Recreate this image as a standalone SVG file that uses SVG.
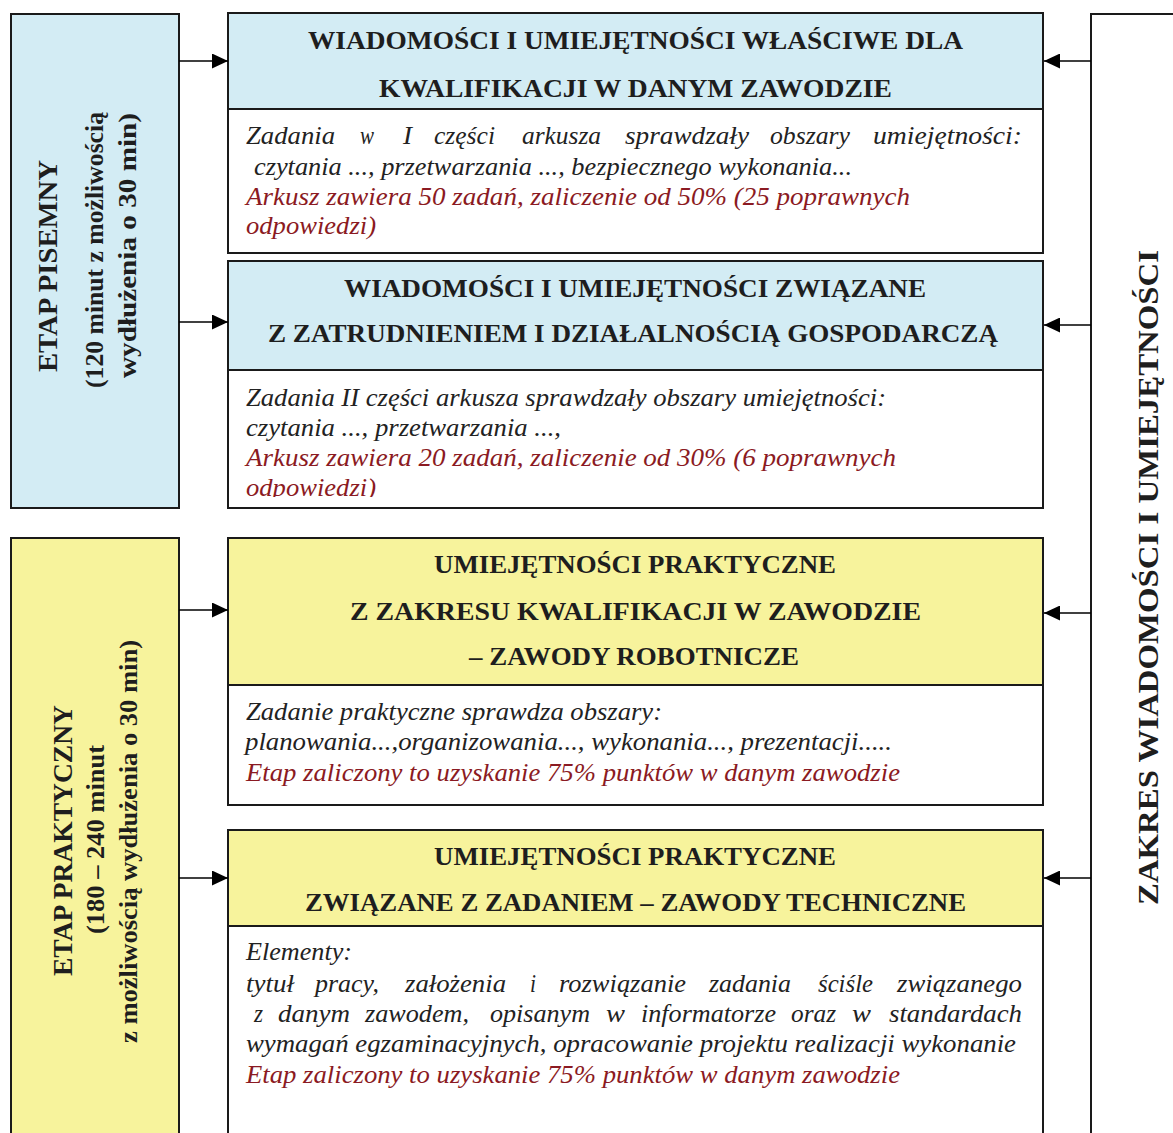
<svg xmlns="http://www.w3.org/2000/svg" width="1173" height="1133" viewBox="0 0 1173 1133" xml:space="preserve">
<defs>
<style>
.box{stroke:#1a1a1a;stroke-width:2}
.blue{fill:#d3ecf4}
.yel{fill:#f7f39c}
.wh{fill:#ffffff}
.hd{font-family:'Liberation Serif',serif;font-weight:bold;font-size:25px;fill:#1e1e1e}
.side{font-family:'Liberation Serif',serif;font-weight:bold;fill:#1e1e1e}
.bd{font-family:'Liberation Serif',serif;font-style:italic;font-size:25px;fill:#222222}
.red{fill:#8b1a22}
.con{stroke:#000;stroke-width:1.6;fill:none;marker-end:url(#ah)}
</style>
<marker id="ah" markerUnits="userSpaceOnUse" markerWidth="17" markerHeight="15" refX="16" refY="7.5" orient="auto">
<path d="M0,0 L16,7.5 L0,15 z" fill="#000"/>
</marker>
<clipPath id="clip2"><rect x="228" y="371" width="815" height="126"/></clipPath>
</defs>
<rect width="1173" height="1133" fill="#ffffff"/>

<g id="etap-pisemny">
<rect class="box blue" x="11" y="14" width="168" height="494"/>
<text class="side" font-size="28" transform="translate(57,372) rotate(-90)" textLength="212" lengthAdjust="spacingAndGlyphs">ETAP  PISEMNY</text>
<text class="side" font-size="26" transform="translate(103,388) rotate(-90)" textLength="276" lengthAdjust="spacingAndGlyphs">(120 minut z możliwością</text>
<text class="side" font-size="26" transform="translate(136,378) rotate(-90)" textLength="265" lengthAdjust="spacingAndGlyphs">wydłużenia o 30 min)</text>
</g>

<g id="etap-praktyczny">
<rect class="box yel" x="11" y="538" width="168" height="700"/>
<text class="side" font-size="28" transform="translate(72,976) rotate(-90)" textLength="271" lengthAdjust="spacingAndGlyphs">ETAP  PRAKTYCZNY</text>
<text class="side" font-size="26" transform="translate(104,934) rotate(-90)" textLength="189" lengthAdjust="spacingAndGlyphs">(180 – 240 minut</text>
<text class="side" font-size="26" transform="translate(137,1043) rotate(-90)" textLength="403" lengthAdjust="spacingAndGlyphs">z możliwością wydłużenia o 30 min)</text>
</g>

<g id="zakres">
<rect class="box wh" x="1091" y="14" width="120" height="1200"/>
<text class="side" font-size="30" transform="translate(1158,905) rotate(-90)" textLength="655" lengthAdjust="spacingAndGlyphs">ZAKRES WIADOMOŚCI  I  UMIEJĘTNOŚCI</text>
</g>

<g id="box1">
<rect class="box wh" x="228" y="13" width="815" height="240"/>
<rect class="box blue" x="228" y="13" width="815" height="96"/>
<text class="hd" x="308" y="49" textLength="655" lengthAdjust="spacingAndGlyphs">WIADOMOŚCI  I  UMIEJĘTNOŚCI WŁAŚCIWE  DLA</text>
<text class="hd" x="379" y="97" textLength="513" lengthAdjust="spacingAndGlyphs">KWALIFIKACJI W  DANYM  ZAWODZIE</text>
<text class="bd" y="144"><tspan x="246" textLength="89" lengthAdjust="spacingAndGlyphs">Zadania</tspan> <tspan x="360" textLength="14" lengthAdjust="spacingAndGlyphs">w</tspan> <tspan x="403" textLength="9" lengthAdjust="spacingAndGlyphs">I</tspan> <tspan x="434" textLength="61" lengthAdjust="spacingAndGlyphs">części</tspan> <tspan x="522" textLength="79" lengthAdjust="spacingAndGlyphs">arkusza</tspan> <tspan x="625" textLength="124" lengthAdjust="spacingAndGlyphs">sprawdzały</tspan> <tspan x="770" textLength="80" lengthAdjust="spacingAndGlyphs">obszary</tspan> <tspan x="873" textLength="149" lengthAdjust="spacingAndGlyphs">umiejętności:</tspan></text>
<text class="bd" x="254" y="175" textLength="598" lengthAdjust="spacingAndGlyphs">czytania ..., przetwarzania ..., bezpiecznego wykonania...</text>
<text class="bd red" x="246" y="205" textLength="664" lengthAdjust="spacingAndGlyphs">Arkusz zawiera 50 zadań,  zaliczenie od 50% (25 poprawnych</text>
<text class="bd red" x="246" y="234" textLength="130" lengthAdjust="spacingAndGlyphs">odpowiedzi)</text>
</g>

<g id="box2">
<rect class="box wh" x="228" y="261" width="815" height="247"/>
<rect class="box blue" x="228" y="261" width="815" height="109"/>
<text class="hd" x="344" y="297" textLength="582" lengthAdjust="spacingAndGlyphs">WIADOMOŚCI  I  UMIEJĘTNOŚCI ZWIĄZANE</text>
<text class="hd" x="268" y="342" textLength="730" lengthAdjust="spacingAndGlyphs">Z  ZATRUDNIENIEM  I DZIAŁALNOŚCIĄ  GOSPODARCZĄ</text>
<text class="bd" x="246" y="406" textLength="640" lengthAdjust="spacingAndGlyphs">Zadania II części arkusza sprawdzały obszary umiejętności:</text>
<text class="bd" x="246" y="436" textLength="315" lengthAdjust="spacingAndGlyphs">czytania ..., przetwarzania ...,</text>
<text class="bd red" x="246" y="466" textLength="650" lengthAdjust="spacingAndGlyphs">Arkusz zawiera 20 zadań,  zaliczenie od 30% (6 poprawnych</text>
<text class="bd red" x="246" y="496" textLength="130" lengthAdjust="spacingAndGlyphs" clip-path="url(#clip2)">odpowiedzi)</text>
</g>

<g id="box3">
<rect class="box wh" x="228" y="538" width="815" height="267"/>
<rect class="box yel" x="228" y="538" width="815" height="147"/>
<text class="hd" x="434" y="573" textLength="402" lengthAdjust="spacingAndGlyphs">UMIEJĘTNOŚCI  PRAKTYCZNE</text>
<text class="hd" x="350" y="620" textLength="571" lengthAdjust="spacingAndGlyphs">Z  ZAKRESU  KWALIFIKACJI W  ZAWODZIE</text>
<text class="hd" x="469" y="665" textLength="330" lengthAdjust="spacingAndGlyphs">– ZAWODY ROBOTNICZE</text>
<text class="bd" x="246" y="720" textLength="416" lengthAdjust="spacingAndGlyphs">Zadanie praktyczne sprawdza obszary:</text>
<text class="bd" x="245" y="750" textLength="647" lengthAdjust="spacingAndGlyphs">planowania...,organizowania..., wykonania..., prezentacji.....</text>
<text class="bd red" x="246" y="781" textLength="654" lengthAdjust="spacingAndGlyphs">Etap zaliczony to uzyskanie 75% punktów w danym zawodzie</text>
</g>

<g id="box4">
<rect class="box wh" x="228" y="830" width="815" height="400"/>
<rect class="box yel" x="228" y="830" width="815" height="96"/>
<text class="hd" x="434" y="865" textLength="402" lengthAdjust="spacingAndGlyphs">UMIEJĘTNOŚCI  PRAKTYCZNE</text>
<text class="hd" x="305" y="911" textLength="661" lengthAdjust="spacingAndGlyphs">ZWIĄZANE Z ZADANIEM – ZAWODY TECHNICZNE</text>
<text class="bd" x="246" y="960" textLength="106" lengthAdjust="spacingAndGlyphs">Elementy:</text>
<text class="bd" y="992"><tspan x="246" textLength="48" lengthAdjust="spacingAndGlyphs">tytuł</tspan> <tspan x="315" textLength="64" lengthAdjust="spacingAndGlyphs">pracy,</tspan> <tspan x="405" textLength="101" lengthAdjust="spacingAndGlyphs">założenia</tspan> <tspan x="530" textLength="6" lengthAdjust="spacingAndGlyphs">i</tspan> <tspan x="559" textLength="127" lengthAdjust="spacingAndGlyphs">rozwiązanie</tspan> <tspan x="709" textLength="82" lengthAdjust="spacingAndGlyphs">zadania</tspan> <tspan x="818" textLength="55" lengthAdjust="spacingAndGlyphs">ściśle</tspan> <tspan x="897" textLength="125" lengthAdjust="spacingAndGlyphs">związanego</tspan></text>
<text class="bd" y="1022"><tspan x="254" textLength="9" lengthAdjust="spacingAndGlyphs">z</tspan> <tspan x="278" textLength="72" lengthAdjust="spacingAndGlyphs">danym</tspan> <tspan x="365" textLength="104" lengthAdjust="spacingAndGlyphs">zawodem,</tspan> <tspan x="490" textLength="100" lengthAdjust="spacingAndGlyphs">opisanym</tspan> <tspan x="606" textLength="19" lengthAdjust="spacingAndGlyphs">w</tspan> <tspan x="641" textLength="135" lengthAdjust="spacingAndGlyphs">informatorze</tspan> <tspan x="791" textLength="45" lengthAdjust="spacingAndGlyphs">oraz</tspan> <tspan x="852" textLength="19" lengthAdjust="spacingAndGlyphs">w</tspan> <tspan x="889" textLength="133" lengthAdjust="spacingAndGlyphs">standardach</tspan></text>
<text class="bd" x="246" y="1052" textLength="770" lengthAdjust="spacingAndGlyphs">wymagań egzaminacyjnych, opracowanie projektu realizacji wykonanie</text>
<text class="bd red" x="246" y="1083" textLength="654" lengthAdjust="spacingAndGlyphs">Etap zaliczony to uzyskanie 75% punktów w danym zawodzie</text>
</g>

<g id="connectors">
<path class="con" d="M179,61 H228"/>
<path class="con" d="M179,322 H228"/>
<path class="con" d="M179,610 H228"/>
<path class="con" d="M179,878 H228"/>
<path class="con" d="M1091,61 H1044"/>
<path class="con" d="M1091,325 H1044"/>
<path class="con" d="M1091,613 H1044"/>
<path class="con" d="M1091,878 H1044"/>
</g>
</svg>
